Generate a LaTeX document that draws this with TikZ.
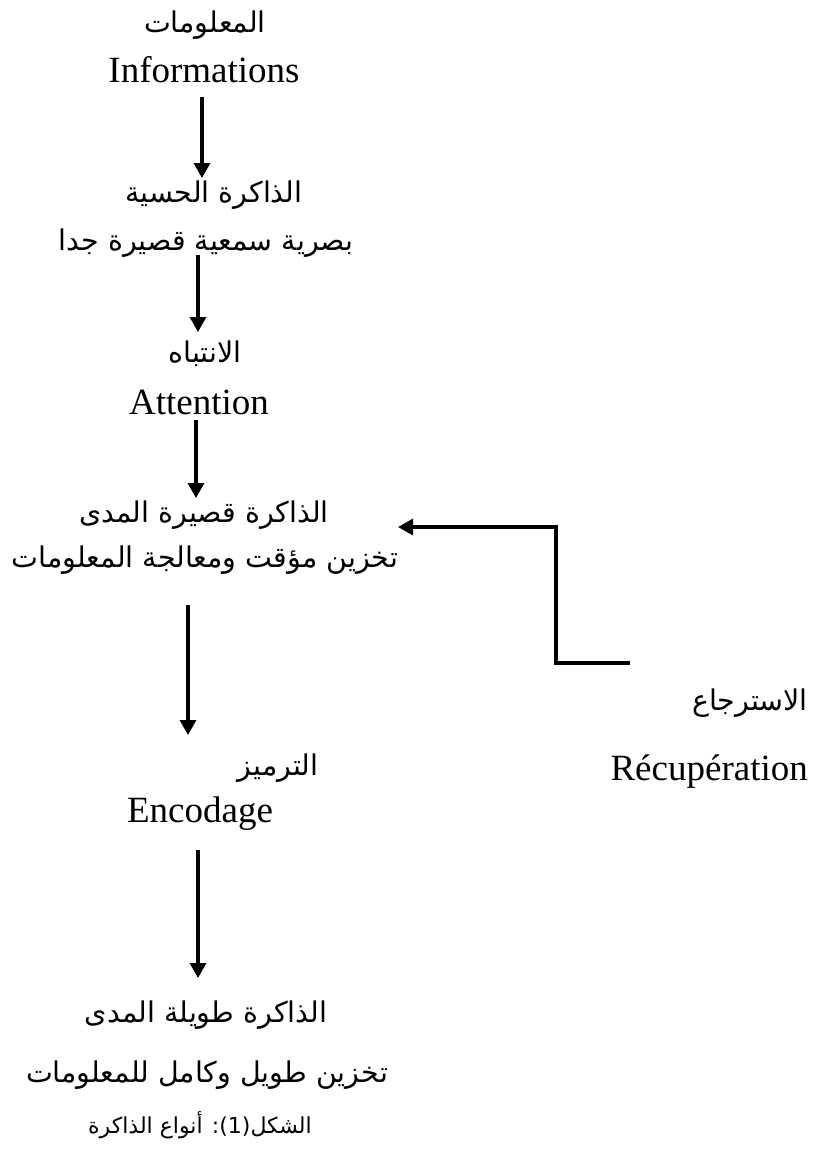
\documentclass[tikz,border=0pt]{standalone}
\usepackage{fontspec}
\setmainfont{Liberation Serif}
\newfontfamily\arabicfont[Script=Arabic]{DejaVu Sans}
\TeXXeTstate=1
\usetikzlibrary{arrows.meta}
\newcommand\artext[1]{{\arabicfont\beginR #1\endR}}
\begin{document}
\begin{tikzpicture}[x=1pt,y=-1pt,
  lat/.style={inner sep=0pt, anchor=base, font=\fontsize{37}{40}\selectfont},
  arb/.style={inner sep=0pt, anchor=base, font=\fontsize{28.5}{34}\selectfont},
  captxt/.style={inner sep=0pt, anchor=base, font=\fontsize{22}{26}\selectfont},
  arr/.style={line width=3.2pt, -{Triangle[length=15pt,width=16pt]}},
  retline/.style={line width=3.2pt, miter limit=10}]
\useasboundingbox (0,0) rectangle (818,1164);
% texts
\node[arb] (infoAr) at (205,33) {\artext{المعلومات}};
\node[lat] (infoEn) at (204,82) {Informations};
\node[arb] (sensAr) at (214,202) {\artext{الذاكرة الحسية}};
\node[arb] (sensAr2) at (206,250) {\artext{بصرية سمعية قصيرة جدا}};
\node[arb] (attAr) at (205,362) {\artext{الانتباه}};
\node[lat] (attEn) at (199,414) {Attention};
\node[arb] (stmAr) at (204,522) {\artext{الذاكرة قصيرة المدى}};
\node[arb] (stmAr2) at (205,567) {\artext{تخزين مؤقت ومعالجة المعلومات}};
\node[arb] (encAr) at (278,775) {\artext{الترميز}};
\node[lat] (encEn) at (200,822) {Encodage};
\node[arb] (ltmAr) at (206,1022) {\artext{الذاكرة طويلة المدى}};
\node[arb] (ltmAr2) at (207,1082) {\artext{تخزين طويل وكامل للمعلومات}};
\node[captxt] (capt) at (200,1133) {\artext{الشكل\beginL(1)\endL: أنواع الذاكرة}};
\node[arb, anchor=base east] (retAr) at (808,710) {\artext{الاسترجاع}};
\node[lat, anchor=base east] (retEn) at (808,780) {Récupération};
% arrow coordinates
\coordinate (a1s) at (202,97);  \coordinate (a1e) at (202,178);
\coordinate (a2s) at (198,255); \coordinate (a2e) at (198,332);
\coordinate (a3s) at (196,420); \coordinate (a3e) at (196,498);
\coordinate (a4s) at (188,605); \coordinate (a4e) at (188,735);
\coordinate (a5s) at (198,850); \coordinate (a5e) at (198,978);
\coordinate (rs) at (630,663);  \coordinate (rc1) at (556,663);
\coordinate (rc2) at (556,527); \coordinate (re) at (398,527);
\draw[arr] (a1s) -- (a1e);
\draw[arr] (a2s) -- (a2e);
\draw[arr] (a3s) -- (a3e);
\draw[arr] (a4s) -- (a4e);
\draw[arr] (a5s) -- (a5e);
\draw[arr, retline] (rs) -- (rc1) -- (rc2) -- (re);
\end{tikzpicture}
\end{document}
